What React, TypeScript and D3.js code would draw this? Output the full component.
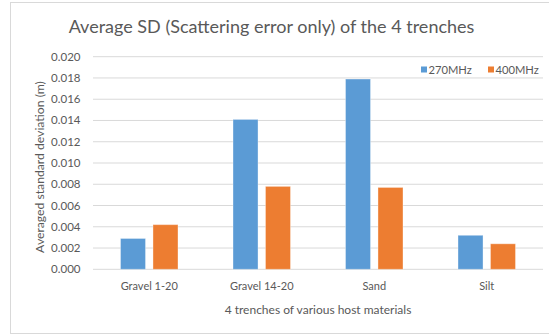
import React from "react";
import * as d3 from "d3";

const categories = ["Gravel 1-20", "Gravel 14-20", "Sand", "Silt"];
const seriesNames = ["270MHz", "400MHz"];
const values270 = [0.0029, 0.0141, 0.0179, 0.0032];
const values400 = [0.0042, 0.0078, 0.0077, 0.0024];
const yTicks = [0, 0.002, 0.004, 0.006, 0.008, 0.01, 0.012, 0.014, 0.016, 0.018, 0.02];

const colors = ["#5b9bd5", "#ed7d31"];
const FONT = "Lato, 'Open Sans', sans-serif";
const TEXT = "#595959";
const GRID = "#d9d9d9";

export default function App() {
  const width = 549;
  const height = 336;
  const left = 93;
  const right = 543;
  const top = 56.7;
  const bottom = 269.3;

  const x0 = d3.scaleBand<string>().domain(categories).range([left, right]).padding(0);
  const groupW = x0.bandwidth() * 0.511;
  const x1 = d3.scaleBand<string>().domain(seriesNames).range([0, groupW]).paddingInner(0.23);
  const y = d3.scaleLinear().domain([0, 0.02]).range([bottom, top]);

  const series = [values270, values400];
  const fmt = d3.format(".3f");

  return (
    <svg width={width} height={height} style={{ position: "absolute", left: 0, top: 0 }}>
      <rect x={10.5} y={2.5} width={width} height={331} fill="#fff" stroke={GRID} />
      <text x={271.5} y={33} textAnchor="middle" fontFamily={FONT} fontSize={18} fill={TEXT}>
        Average SD (Scattering error only) of the 4 trenches
      </text>
      {yTicks.map((t) => (
        <g key={t}>
          <line x1={left} x2={right} y1={y(t)} y2={y(t)} stroke={GRID} strokeWidth={1} />
          <text x={80.5} y={y(t) + 4} textAnchor="end" fontFamily={FONT} fontSize={11.5} fill={TEXT}>
            {fmt(t)}
          </text>
        </g>
      ))}
      {categories.map((c, i) => {
        const gx = (x0(c) as number) + (x0.bandwidth() - groupW) / 2;
        return (
          <g key={c}>
            {series.map((vals, s) => (
              <rect
                key={s}
                x={gx + (x1(seriesNames[s]) as number)}
                y={y(vals[i])}
                width={x1.bandwidth()}
                height={bottom - y(vals[i])}
                fill={colors[s]}
                stroke="rgba(255,255,255,0.35)"
                strokeWidth={1}
              />
            ))}
            <text
              x={(x0(c) as number) + x0.bandwidth() / 2}
              y={289.5}
              textAnchor="middle"
              fontFamily={FONT}
              fontSize={11}
              fill={TEXT}
            >
              {c}
            </text>
          </g>
        );
      })}
      <text x={(left + right) / 2} y={313.5} textAnchor="middle" fontFamily={FONT} fontSize={12} fill={TEXT}>
        4 trenches of various host materials
      </text>
      <text
        transform={`translate(44,${(top + bottom) / 2 + 4}) rotate(-90)`}
        textAnchor="middle"
        fontFamily={FONT}
        fontSize={12.2}
        fill={TEXT}
      >
        Averaged standard deviation (m)
      </text>
      {seriesNames.map((name, s) => (
        <g key={name} transform={`translate(${[421, 488][s]},66.5)`}>
          <rect x={0} y={0} width={6} height={6} fill={colors[s]} />
          <text x={7.5} y={7} fontFamily={FONT} fontSize={11.2} fill={TEXT}>
            {name}
          </text>
        </g>
      ))}
    </svg>
  );
}
